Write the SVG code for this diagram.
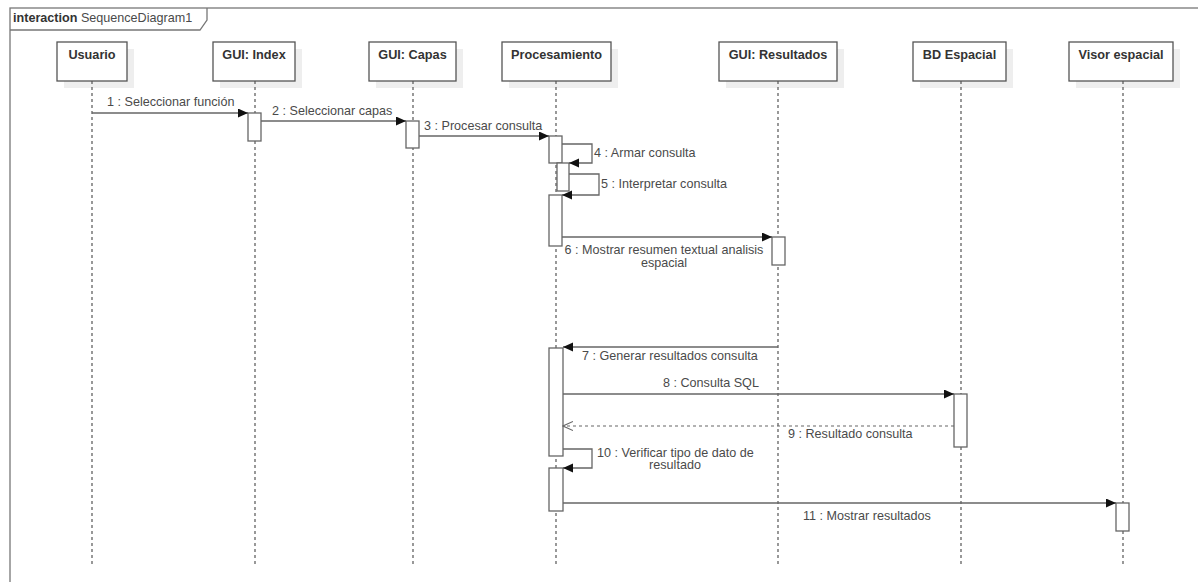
<svg xmlns="http://www.w3.org/2000/svg" width="1198" height="582" viewBox="0 0 1198 582">
<style>
text{font-family:"Liberation Sans",Arial,sans-serif;font-size:12.6px;fill:#4a4a4a}
.title{font-weight:bold;fill:#333;text-anchor:middle;font-size:12.7px}
.box{fill:#fff;stroke:#555;stroke-width:1.3}
.shadow{fill:#eeeeee}
.life{stroke:#555;stroke-width:1.2;stroke-dasharray:3,3;fill:none}
.act{fill:#fff;stroke:#666;stroke-width:1.3}
.msg{stroke:#666;stroke-width:1.3;fill:none;marker-end:url(#filled)}
.ret{stroke:#666;stroke-width:1.2;fill:none;stroke-dasharray:3,3;marker-end:url(#open)}
.mid{text-anchor:middle}
</style>
<defs>
<marker id="filled" markerUnits="userSpaceOnUse" markerWidth="11" markerHeight="10" refX="10" refY="4.5" orient="auto"><path d="M0,0 L10,4.5 L0,9 z" fill="#111"/></marker>
<marker id="open" markerUnits="userSpaceOnUse" markerWidth="11" markerHeight="10" refX="10" refY="4.5" orient="auto"><path d="M0,0 L10,4.5 L0,9" fill="none" stroke="#666" stroke-width="1.1"/></marker>
</defs>
<rect width="1198" height="582" fill="#fff"/>
<g id="frame">
<rect x="10" y="8" width="1200" height="600" fill="none" stroke="#777" stroke-width="1.3"/>
<path d="M10,30 H200 L207,20 V8" fill="none" stroke="#777" stroke-width="1.3"/>
<text x="13" y="22"><tspan font-weight="bold" fill="#333">interaction</tspan> SequenceDiagram1</text>
</g>
<g id="usuario">
<rect class="shadow" x="64" y="49" width="70" height="39"/>
<rect class="box" x="57" y="42" width="70" height="39"/>
<text class="title" x="92" y="59">Usuario</text>
<line class="life" x1="92" y1="81" x2="92" y2="565"/>
</g>
<g id="gui-index">
<rect class="shadow" x="220" y="49" width="82" height="39"/>
<rect class="box" x="213" y="42" width="82" height="39"/>
<text class="title" x="254" y="59">GUI: Index</text>
<line class="life" x1="255" y1="81" x2="255" y2="565"/>
<rect class="act" x="248" y="113" width="13" height="28"/>
</g>
<g id="gui-capas">
<rect class="shadow" x="376" y="49" width="87" height="39"/>
<rect class="box" x="369" y="42" width="87" height="39"/>
<text class="title" x="412.5" y="59">GUI: Capas</text>
<line class="life" x1="413" y1="81" x2="413" y2="565"/>
<rect class="act" x="406" y="121" width="13" height="27"/>
</g>
<g id="procesamiento">
<rect class="shadow" x="509" y="49" width="109" height="39"/>
<rect class="box" x="502" y="42" width="109" height="39"/>
<text class="title" x="556.5" y="59">Procesamiento</text>
<line class="life" x1="556" y1="81" x2="556" y2="565"/>
<rect class="act" x="549" y="136" width="13" height="27"/>
<rect class="act" x="557" y="163" width="12" height="28"/>
<rect class="act" x="549" y="195" width="13" height="51"/>
<rect class="act" x="549" y="348" width="14" height="108"/>
<rect class="act" x="549" y="468" width="14" height="43"/>
</g>
<g id="gui-resultados">
<rect class="shadow" x="726" y="49" width="118" height="39"/>
<rect class="box" x="719" y="42" width="118" height="39"/>
<text class="title" x="778" y="59">GUI: Resultados</text>
<line class="life" x1="778" y1="81" x2="778" y2="565"/>
<rect class="act" x="772" y="237" width="13" height="28"/>
</g>
<g id="bd-espacial">
<rect class="shadow" x="920" y="49" width="93" height="39"/>
<rect class="box" x="913" y="42" width="93" height="39"/>
<text class="title" x="959.5" y="59">BD Espacial</text>
<line class="life" x1="961" y1="81" x2="961" y2="565"/>
<rect class="act" x="954" y="394" width="13" height="53"/>
</g>
<g id="visor-espacial">
<rect class="shadow" x="1076" y="49" width="104" height="39"/>
<rect class="box" x="1069" y="42" width="104" height="39"/>
<text class="title" x="1121" y="59">Visor espacial</text>
<line class="life" x1="1123" y1="81" x2="1123" y2="565"/>
<rect class="act" x="1116" y="503" width="13" height="28"/>
</g>
<g id="connectors">
<line class="msg" x1="92" y1="113" x2="248" y2="113"/>
<text x="107" y="106">1 : Seleccionar función</text>
<line class="msg" x1="261" y1="121" x2="406" y2="121"/>
<text x="272" y="115">2 : Seleccionar capas</text>
<line class="msg" x1="419" y1="136" x2="549" y2="136"/>
<text x="424" y="130">3 : Procesar consulta</text>
<path class="msg" d="M562,144 H592 V163 H569"/>
<text x="594" y="157">4 : Armar consulta</text>
<path class="msg" d="M569,174 H599 V195 H562"/>
<text x="601" y="188">5 : Interpretar consulta</text>
<line class="msg" x1="562" y1="237" x2="772" y2="237"/>
<text class="mid" x="664" y="254">6 : Mostrar resumen textual analisis</text>
<text class="mid" x="664" y="267">espacial</text>
<line class="msg" x1="778" y1="347" x2="563" y2="347"/>
<text x="582" y="360">7 : Generar resultados consulta</text>
<line class="msg" x1="563" y1="394" x2="954" y2="394"/>
<text x="663" y="387">8 : Consulta SQL</text>
<line class="ret" x1="954" y1="426" x2="563" y2="426"/>
<text x="788" y="438">9 : Resultado consulta</text>
<path class="msg" d="M563,449 H592 V468 H563"/>
<text x="597" y="457">10 : Verificar tipo de dato de</text>
<text class="mid" x="675" y="469">resultado</text>
<line class="msg" x1="563" y1="503" x2="1116" y2="503"/>
<text x="803" y="520">11 : Mostrar resultados</text>
</g>
</svg>
